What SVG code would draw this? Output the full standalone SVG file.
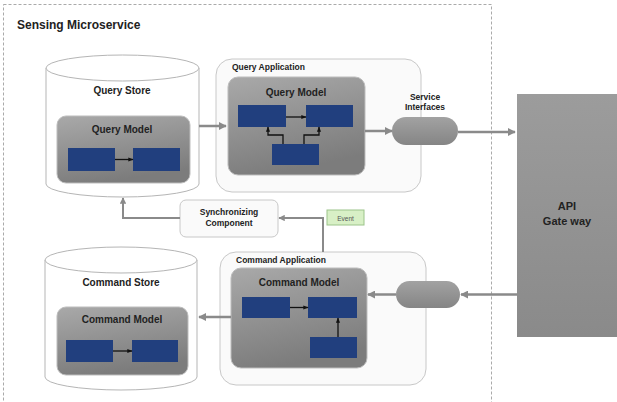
<svg xmlns="http://www.w3.org/2000/svg" width="617" height="402" viewBox="0 0 617 402">
<defs>
<linearGradient id="gModel" x1="0" y1="0" x2="0.3" y2="1">
<stop offset="0" stop-color="#a9a9a9"/><stop offset="1" stop-color="#7c7c7c"/>
</linearGradient>
<linearGradient id="gPill" x1="0" y1="0" x2="0" y2="1">
<stop offset="0" stop-color="#a2a2a2"/><stop offset="1" stop-color="#858585"/>
</linearGradient>
<linearGradient id="gApi" x1="0" y1="0" x2="0" y2="1">
<stop offset="0" stop-color="#9c9c9c"/><stop offset="1" stop-color="#8a8a8a"/>
</linearGradient>
<marker id="ag" viewBox="0 0 10 10" refX="9" refY="5" markerWidth="3.2" markerHeight="3.2" orient="auto">
<path d="M0,0 L10,5 L0,10 Z" fill="#8a8a8a"/>
</marker>
<marker id="ab" viewBox="0 0 10 10" refX="9" refY="5" markerWidth="4" markerHeight="4" orient="auto">
<path d="M0,1 L10,5 L0,9 Z" fill="#111"/>
</marker>
</defs>
<style>
text{font-family:"Liberation Sans",Arial,sans-serif;font-weight:bold;fill:#222}
.t{font-size:12px}
.lbl{font-size:10px;text-anchor:middle}
.sm{font-size:8.5px}
.smc{font-size:8.5px;text-anchor:middle}
.cyl{fill:#fff;stroke:#b5b5b5;stroke-width:1}
.app{fill:#fafafa;stroke:#c8c8c8;stroke-width:1}
.model{fill:url(#gModel);stroke:#bdbdbd;stroke-width:1}
.blue{fill:#213f7e}
.pill{fill:url(#gPill)}
.ga{fill:none;stroke:#8a8a8a;stroke-width:2.5;marker-end:url(#ag)}
.ba{fill:none;stroke:#111;stroke-width:1.3;marker-end:url(#ab)}
</style>
<rect x="0" y="0" width="617" height="402" fill="#fff"/>
<g id="boundary">
<rect x="3.5" y="4.5" width="488" height="410" fill="none" stroke="#aaa" stroke-width="1" stroke-dasharray="3,2"/>
<text class="t" x="17" y="29">Sensing Microservice</text>
</g>
<g id="query-store">
<path class="cyl" d="M46,68 A76.5,13 0 0 1 199,68 L199,184 A76.5,13 0 0 1 46,184 Z"/>
<path class="cyl" fill="none" d="M46,68 A76.5,13 0 0 0 199,68"/>
<text class="lbl" x="122" y="94">Query Store</text>
<rect class="model" x="57" y="116" width="133" height="67" rx="9"/>
<text class="lbl" x="122" y="133">Query Model</text>
<rect class="blue" x="68" y="148" width="47" height="23"/>
<rect class="blue" x="133" y="148" width="47" height="23"/>
<line class="ba" x1="115" y1="159.5" x2="133" y2="159.5"/>
</g>
<g id="query-application">
<rect class="app" x="216" y="59" width="205" height="133" rx="16"/>
<text class="sm" x="232" y="70">Query Application</text>
<rect class="model" x="228" y="77" width="137" height="98" rx="10"/>
<text class="lbl" x="296" y="96">Query Model</text>
<rect class="blue" x="238" y="105" width="48" height="22"/>
<rect class="blue" x="306" y="105" width="47" height="22"/>
<rect class="blue" x="272" y="144" width="47" height="21"/>
<line class="ba" x1="286" y1="117" x2="306" y2="117"/>
<polyline class="ba" points="283,144 283,135 268,135 268,127"/>
<polyline class="ba" points="304,144 304,135 319,135 319,127"/>
</g>
<g id="service-interfaces">
<rect class="pill" x="392" y="117" width="66" height="28" rx="14"/>
<text class="smc" x="425" y="100">Service</text>
<text class="smc" x="425" y="110">Interfaces</text>
</g>
<g id="api-gateway">
<rect x="517" y="94" width="102" height="243" fill="url(#gApi)"/>
<text class="lbl" x="567" y="210" style="font-size:11px">API</text>
<text class="lbl" x="567" y="225" style="font-size:11px">Gate way</text>
</g>
<g id="synchronizing-component">
<rect x="180" y="200" width="98" height="37" rx="6" fill="#fafafa" stroke="#c8c8c8"/>
<text class="smc" x="229" y="215">Synchronizing</text>
<text class="smc" x="229" y="226">Component</text>
</g>
<g id="event">
<rect x="327" y="210" width="37" height="15" fill="#d8f0c6" stroke="#9cc48a" stroke-width="1"/>
<text x="345.5" y="220.5" style="font-size:6.5px;font-weight:normal;text-anchor:middle;fill:#555">Event</text>
</g>
<g id="command-store">
<path class="cyl" d="M45,260 A76,13 0 0 1 197,260 L197,377 A76,13 0 0 1 45,377 Z"/>
<path class="cyl" fill="none" d="M45,260 A76,13 0 0 0 197,260"/>
<text class="lbl" x="121" y="286">Command Store</text>
<rect class="model" x="57" y="307" width="131" height="68" rx="9"/>
<text class="lbl" x="122" y="323">Command Model</text>
<rect class="blue" x="66" y="340" width="47" height="22"/>
<rect class="blue" x="132" y="340" width="46" height="22"/>
<line class="ba" x1="113" y1="351" x2="132" y2="351"/>
</g>
<g id="command-application">
<rect class="app" x="220" y="252" width="206" height="133" rx="16"/>
<text class="sm" x="236" y="263">Command Application</text>
<rect class="model" x="231" y="268" width="136" height="100" rx="10"/>
<text class="lbl" x="299" y="286">Command Model</text>
<rect class="blue" x="242" y="297" width="48" height="21"/>
<rect class="blue" x="308" y="297" width="49" height="21"/>
<rect class="blue" x="310" y="337" width="47" height="21"/>
<line class="ba" x1="290" y1="307.5" x2="308" y2="307.5"/>
<line class="ba" x1="338" y1="337" x2="338" y2="318"/>
</g>
<g id="command-interface">
<rect class="pill" x="396" y="281" width="64" height="27" rx="13.5"/>
</g>
<g id="connectors">
<line class="ga" x1="199" y1="126" x2="226" y2="126"/>
<line class="ga" x1="365" y1="131" x2="392" y2="131"/>
<line class="ga" x1="458" y1="132" x2="515" y2="132"/>
<line class="ga" x1="517" y1="294.5" x2="461" y2="294.5"/>
<line class="ga" x1="396" y1="294.5" x2="368" y2="294.5"/>
<line class="ga" x1="231" y1="317" x2="199" y2="317"/>
<polyline class="ga" style="stroke-width:2" points="180,218 123,218 123,198"/>
<polyline class="ga" style="stroke-width:2" points="323,252 323,218 279,218"/>
</g>
</svg>
